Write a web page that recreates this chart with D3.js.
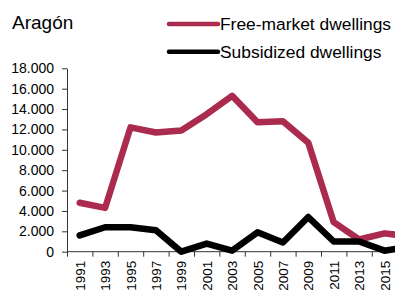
<!DOCTYPE html>
<html>
<head>
<meta charset="utf-8">
<script src="https://cdn.jsdelivr.net/npm/d3@7"></script>
<style>
  body { margin: 0; background: #fff; }
  svg { display: block; font-family: "Liberation Sans", Arial, sans-serif; }
</style>
</head>
<body>
<svg id="chart"></svg>
<script>
// data (odd years, last one cut off by the frame)
const years = [1991, 1993, 1995, 1997, 1999, 2001, 2003, 2005, 2007, 2009, 2011, 2013, 2015, 2017];
const freeMarket = [4800, 4300, 12200, 11700, 11900, 13500, 15300, 12700, 12800, 10700, 2900, 1200, 1800, 1500];
const subsidized = [1600, 2400, 2400, 2100, 0, 800, 100, 1900, 900, 3400, 1000, 1000, 100, 500];
const yTicks = [0, 2000, 4000, 6000, 8000, 10000, 12000, 14000, 16000, 18000];
const xLabels = [1991, 1993, 1995, 1997, 1999, 2001, 2003, 2005, 2007, 2009, 2011, 2013, 2015];

const width = 395, height = 292;
const svg = d3.select("#chart").attr("width", width).attr("height", height);

const x = d3.scaleLinear().domain([1990, 2018]).range([67, 67 + 14 * 25.4]);
const y = d3.scaleLinear().domain([0, 18000]).range([251.7, 68.3]);

const fmt = d3.formatLocale({ decimal: ",", thousands: ".", grouping: [3], currency: ["", ""] }).format(",.0f");

// y axis
const yAxis = svg.append("g")
    .attr("transform", `translate(${x(1990)},0)`)
    .call(d3.axisLeft(y).tickValues(yTicks).tickFormat(fmt).tickSize(5).tickSizeOuter(0).tickPadding(8));
yAxis.selectAll("text").attr("font-size", 14).attr("fill", "#000").attr("font-family", null);
yAxis.selectAll("line, path").attr("stroke", "#333");

// x axis: ticks between categories, labels on them
const xTickVals = d3.range(1990, 2018, 2);
const xAxis = svg.append("g")
    .attr("transform", `translate(0,${y(0)})`)
    .call(d3.axisBottom(x).tickValues(xTickVals).tickFormat("").tickSize(5).tickSizeOuter(0));
xAxis.selectAll("line, path").attr("stroke", "#333");
xAxis.select("path").attr("d", `M${x(1990)},0H${width + 40}`);

svg.append("g")
  .selectAll("text")
  .data(xLabels)
  .join("text")
    .attr("transform", d => `translate(${x(d) + 5},${y(0) + 9}) rotate(-90)`)
    .attr("text-anchor", "end")
    .attr("font-size", 13.5)
    .text(d => d);

// lines
const line = d3.line().x((d, i) => x(years[i])).y(d => y(d));
const series = [
  { name: "Free-market dwellings", values: freeMarket, color: "#aa2b4d" },
  { name: "Subsidized dwellings", values: subsidized, color: "#000000" }
];

svg.append("g")
  .selectAll("path")
  .data(series)
  .join("path")
    .attr("d", d => line(d.values))
    .attr("fill", "none")
    .attr("stroke", d => d.color)
    .attr("stroke-width", 6.5)
    .attr("stroke-linejoin", "round")
    .attr("stroke-linecap", "round");

// title
svg.append("text")
    .attr("x", 12)
    .attr("y", 29)
    .attr("font-size", 19)
    .text("Aragón");

// legend
const legend = svg.append("g")
  .selectAll("g")
  .data(series)
  .join("g")
    .attr("transform", (d, i) => `translate(167,${24 + i * 27.7})`);

legend.append("line")
    .attr("x1", 2).attr("x2", 51)
    .attr("stroke", d => d.color)
    .attr("stroke-width", 4.5)
    .attr("stroke-linecap", "round");

legend.append("text")
    .attr("x", 53)
    .attr("y", 6)
    .attr("font-size", 17.4)
    .text(d => d.name);
</script>
</body>
</html>
